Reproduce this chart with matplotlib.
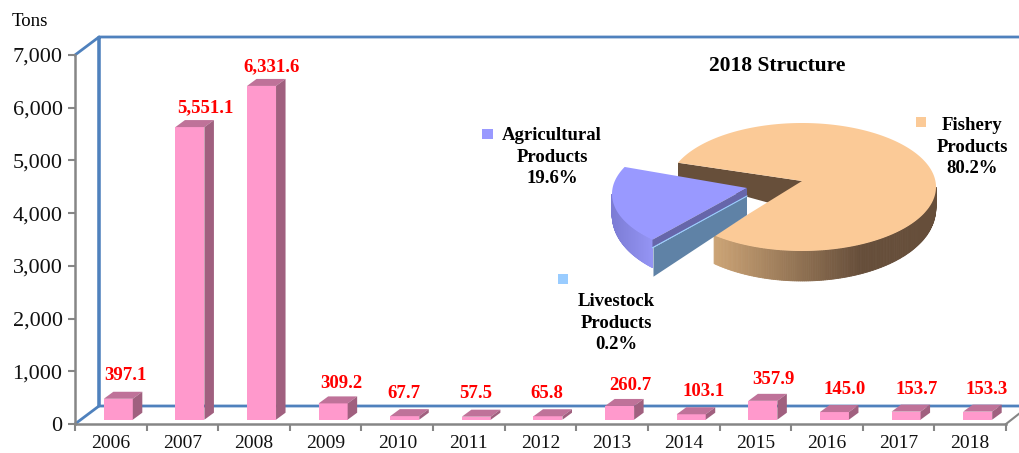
import numpy as np
import matplotlib
matplotlib.use("Agg")
from matplotlib import pyplot as plt
from matplotlib.colors import to_rgb

years = ["2006", "2007", "2008", "2009", "2010", "2011", "2012", "2013", "2014", "2015", "2016", "2017", "2018"]
tons = [397.1, 5551.1, 6331.6, 309.2, 67.7, 57.5, 65.8, 260.7, 103.1, 357.9, 145.0, 153.7, 153.3]
value_labels = ["397.1", "5,551.1", "6,331.6", "309.2", "67.7", "57.5", "65.8", "260.7", "103.1", "357.9", "145.0", "153.7", "153.3"]
y_ticks = [0, 1000, 2000, 3000, 4000, 5000, 6000, 7000]
y_tick_labels = ["0", "1,000", "2,000", "3,000", "4,000", "5,000", "6,000", "7,000"]

pie_names = ["Agricultural\nProducts\n19.6%", "Livestock\nProducts\n0.2%", "Fishery\nProducts\n80.2%"]
pie_shares = [19.6, 0.2, 80.2]

# label centres as placed on the original (pixels)
label_x = [125, 205, 272, 341, 404, 476, 547, 630, 704, 773, 845, 917, 987]
label_y = [376, 108, 67, 384, 394, 394, 394, 386, 392, 379, 389, 389, 389]

W, H = 1020, 453
plt.rcParams["font.family"] = ["Liberation Serif", "DejaVu Serif"]
fig = plt.figure(figsize=(W / 100, H / 100), dpi=100, facecolor="white")

BLUE = "#4F81BD"
GREY = "#868686"

# background layer in pixels for the walls
bg = fig.add_axes([0, 0, 1, 1], zorder=0)
bg.set_xlim(0, W)
bg.set_ylim(H, 0)
bg.axis("off")
bg.plot([75, 99, 99, 99, W], [55, 37, 406, 37, 37], color=BLUE, lw=2)
bg.plot([75, 99, W], [424, 406, 406], color=BLUE, lw=2)
bg.plot([1006, 1020], [424, 413], color=GREY, lw=1.5)

# main chart
left, right, top, bottom = 75, 1006, 55, 424
ax = fig.add_axes([left / W, 1 - bottom / H, (right - left) / W, (bottom - top) / H], zorder=1)
ax.patch.set_alpha(0)
ax.set_xlim(-0.5, 12.5)
ax.set_ylim(0, 7000)
px_x = 13 / (right - left)
px_y = 7000 / (bottom - top)

xpos = np.arange(len(years))
bar_w = 29 * px_x
shift_x = 7.5 * px_x
base = 4.3 * px_y
dx = 9.5 * px_x
dy = 7 * px_y

ax.bar(xpos + shift_x, tons, width=bar_w, bottom=base, color="#FF99CC", linewidth=0, zorder=3)
for x, v in zip(xpos, tons):
    x0 = x + shift_x - bar_w / 2
    x1 = x + shift_x + bar_w / 2
    y0 = base
    y1 = base + v
    ax.fill([x0, x1, x1 + dx, x0 + dx], [y1, y1, y1 + dy, y1 + dy], color="#BF7299", lw=0, zorder=3, clip_on=False)
    ax.fill([x1, x1 + dx, x1 + dx, x1], [y0, y0 + dy, y1 + dy, y1], color="#A0607F", lw=0, zorder=3, clip_on=False)

for s in ["top", "right"]:
    ax.spines[s].set_visible(False)
for s in ["left", "bottom"]:
    ax.spines[s].set_color(GREY)
    ax.spines[s].set_linewidth(1.8)
ax.set_yticks(y_ticks)
ax.set_yticklabels(y_tick_labels, fontsize=16, color="#111111")
ax.set_xticks(xpos)
ax.set_xticklabels(years, fontsize=14, color="#111111")
ax.set_xticks(np.arange(-0.5, 13, 1), minor=True)
ax.tick_params(axis="x", which="major", length=0, pad=8)
ax.tick_params(axis="x", which="minor", length=5, width=1.5, color=GREY)
ax.tick_params(axis="y", length=5, width=1.5, color=GREY, pad=4)

# overlay in pixels: texts and pie
ov = fig.add_axes([0, 0, 1, 1], zorder=2)
ov.set_xlim(0, W)
ov.set_ylim(H, 0)
ov.axis("off")

for t, lx, ly in zip(value_labels, label_x, label_y):
    ov.text(lx, ly, t, color="#FF0000", fontsize=13.5, fontweight="bold", ha="center", va="center")

ov.text(30, 21, "Tons", fontsize=13.5, ha="center", va="center", color="black")
ov.text(777, 66, "2018 Structure", fontsize=15.5, fontweight="bold", ha="center", va="center")


def rim(cx, cy, a0, a1, n=200):
    th = np.radians(np.linspace(a0, a1, n))
    return cx + RX * np.cos(th), cy - RY * np.sin(th), th


def thick(th):
    return 17 + 13 * np.sqrt(np.abs(np.sin(th)))


def mix(c0, c1, f):
    a = np.array(to_rgb(c0))
    b = np.array(to_rgb(c1))
    return tuple(a + (b - a) * f)


def side(cx, cy, a0, a1, c0, c1, x0, x1):
    xs, ys, th = rim(cx, cy, a0, a1, 160)
    hs = thick(th)
    for i in range(len(xs) - 1):
        f = np.clip((xs[i] - x0) / (x1 - x0), 0, 1)
        ov.fill([xs[i], xs[i + 1], xs[i + 1], xs[i]],
                [ys[i], ys[i + 1], ys[i + 1] + hs[i + 1], ys[i] + hs[i]],
                color=mix(c0, c1, f), lw=0.6, zorder=2)


RX, RY = 134, 64
PEACH = "#FBCA97"
PERI = "#9999FF"

fish_start = 229
fish_end = fish_start + pie_shares[2] * 3.6
ax_f, ay_f = 802, 181
cx_f, cy_f = 802, 187

# back cut face of fishery
ex, ey, _ = rim(cx_f, cy_f, fish_end, fish_end, 1)
ov.fill([ex[0], ax_f, ax_f, ex[0]], [ey[0], ay_f, ay_f + 31, ey[0] + 15], color="#674F3A", lw=0, zorder=1)

side(cx_f, cy_f, fish_start, 360, "#CBA375", "#664E3A", 716, 860)
xs, ys, _ = rim(cx_f, cy_f, fish_start, fish_end, 400)
ov.fill(np.r_[ax_f, xs], np.r_[ay_f, ys], color=PEACH, lw=0, zorder=3)

# exploded part
agri_start = 155
agri_end = agri_start + pie_shares[0] * 3.6
ax_a, ay_a = 747, 188
cx_a, cy_a = 747, 194
RX = 135

side(cx_a, cy_a, 180, agri_end, "#7C7CD4", "#9494F4", 612, 652)
xa, ya, _ = rim(cx_a, cy_a, agri_start, agri_end, 120)
ov.fill(np.r_[ax_a, xa], np.r_[ay_a, ya], color=PERI, lw=0, zorder=6)
px, py = xa[-1], ya[-1]
ov.fill([ax_a, ax_a, px, px], [ay_a, ay_a + 8, py + 8, py], color="#6666AA", lw=0, zorder=6)
ov.fill([ax_a, ax_a, px + 1, px + 1], [ay_a + 8, ay_a + 27, py + 37, py + 8], color="#5F82A6", lw=0, zorder=6)
ov.plot([ax_a, px], [ay_a + 8, py + 8], color="#99CCFF", lw=0.8, zorder=7)

# legend squares and names
ov.fill([482, 493, 493, 482], [129, 129, 139, 139], color=PERI, lw=0)
ov.fill([558, 568, 568, 558], [274, 274, 284, 284], color="#99CCFF", lw=0)
ov.fill([916, 926, 926, 916], [117, 117, 127, 127], color=PEACH, lw=0)
ov.text(552, 157, pie_names[0], fontsize=13.5, fontweight="bold", ha="center", va="center", linespacing=1.35)
ov.text(616, 323, pie_names[1], fontsize=13.5, fontweight="bold", ha="center", va="center", linespacing=1.35)
ov.text(972, 147, pie_names[2], fontsize=13.5, fontweight="bold", ha="center", va="center", linespacing=1.35)

fig.savefig("out.png", dpi=100)
